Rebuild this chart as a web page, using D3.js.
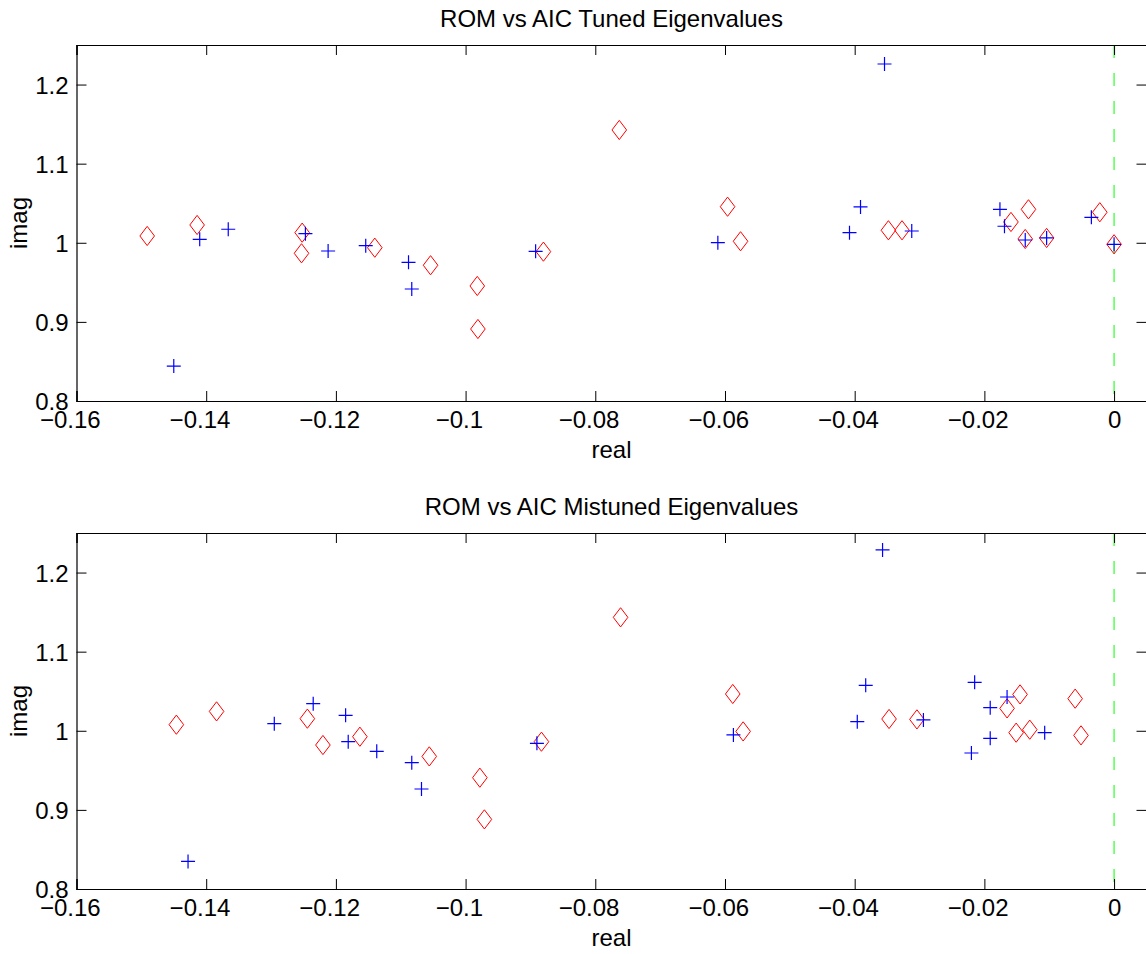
<!DOCTYPE html>
<html>
<head>
<meta charset="utf-8">
<script src="https://cdn.jsdelivr.net/npm/d3@7"></script>
<style>
  html, body { margin: 0; padding: 0; background: #fff; }
  svg { display: block; font-family: "Liberation Sans", Arial, Helvetica, sans-serif; }
</style>
</head>
<body>
<svg id="chart" width="1146" height="954"></svg>
<script>
// ---------- data ----------
const titles = ["ROM vs AIC Tuned Eigenvalues", "ROM vs AIC Mistuned Eigenvalues"];
const xLabel = "real";
const yLabel = "imag";
const xTicks = [-0.16, -0.14, -0.12, -0.1, -0.08, -0.06, -0.04, -0.02, 0];
const xTickLabels = ["\u22120.16", "\u22120.14", "\u22120.12", "\u22120.1", "\u22120.08", "\u22120.06", "\u22120.04", "\u22120.02", "0"];
const yTicks = [0.8, 0.9, 1.0, 1.1, 1.2];
const yTickLabels = ["0.8", "0.9", "1", "1.1", "1.2"];
const xDomain = [-0.16, 0.005];
const yDomain = [0.8, 1.25];

// Tuned: ROM (blue +)
const tunedRomReal = [-0.1450, -0.1410, -0.1366, -0.1247, -0.1212, -0.1154, -0.1088, -0.1083, -0.0892, -0.0611,
                      -0.0408, -0.0391, -0.0354, -0.0312, -0.0176, -0.0169, -0.0137, -0.0104, -0.0035, 0.0000];
const tunedRomImag = [0.8442, 1.0044, 1.0171, 1.0115, 0.9896, 0.9963, 0.9753, 0.9416, 0.9892, 1.0001,
                      1.0128, 1.0453, 1.2260, 1.0149, 1.0423, 1.0209, 1.0035, 1.0061, 1.0322, 0.9980];
// Tuned: AIC (red diamonds)
const tunedAicReal = [-0.1491, -0.1414, -0.1252, -0.1253, -0.1140, -0.1054, -0.0982, -0.0981, -0.0880, -0.0763,
                      -0.0596, -0.0576, -0.0348, -0.0327, -0.0159, -0.0137, -0.0132, -0.0104, -0.0022, 0.0000];
const tunedAicImag = [1.0086, 1.0225, 1.0128, 0.9867, 0.9938, 0.9716, 0.9454, 0.8910, 0.9888, 1.1426,
                      1.0456, 1.0019, 1.0158, 1.0158, 1.0263, 1.0048, 1.0423, 1.0061, 1.0386, 0.9981];
// Mistuned: ROM (blue +)
const mistunedRomReal = [-0.1428, -0.1295, -0.1235, -0.1185, -0.1181, -0.1137, -0.1083, -0.1068, -0.0890, -0.0587,
                         -0.0396, -0.0383, -0.0357, -0.0294, -0.0220, -0.0215, -0.0191, -0.0191, -0.0165, -0.0107];
const mistunedRomImag = [0.8349, 1.0090, 1.0343, 1.0195, 0.9862, 0.9740, 0.9597, 0.9264, 0.9841, 0.9947,
                         1.0115, 1.0574, 1.2286, 1.0137, 0.9719, 1.0612, 1.0292, 0.9904, 1.0427, 0.9976];
// Mistuned: AIC (red diamonds)
const mistunedAicReal = [-0.1446, -0.1384, -0.1244, -0.1220, -0.1163, -0.1056, -0.0978, -0.0971, -0.0883, -0.0761,
                         -0.0588, -0.0572, -0.0347, -0.0304, -0.0165, -0.0151, -0.0145, -0.0130, -0.0060, -0.0051];
const mistunedAicImag = [1.0077, 1.0245, 1.0153, 0.9820, 0.9925, 0.9676, 0.9407, 0.8880, 0.9862, 1.1434,
                         1.0465, 0.9992, 1.0149, 1.0144, 1.0283, 0.9976, 1.0460, 1.0014, 1.0406, 0.9942];

const refLineX = [0];

// ---------- layout ----------
const svg = d3.select("#chart");
const left = 76.5, right = 1146.5;
const panels = [
  { top: 45, bottom: 401, title: titles[0], rom: [tunedRomReal, tunedRomImag], aic: [tunedAicReal, tunedAicImag] },
  { top: 533, bottom: 889, title: titles[1], rom: [mistunedRomReal, mistunedRomImag], aic: [mistunedAicReal, mistunedAicImag] }
];
const fontSize = 24;
const tickLen = 10;
const fontFamily = '"Liberation Sans", Arial, sans-serif';

const x = d3.scaleLinear().domain(xDomain).range([left, right]);

const plusPath = "M-7,0H7M0,-7V7";
const diamondPath = "M0,-9.6L7.3,0L0,9.6L-7.3,0Z";

panels.forEach(p => {
  const y = d3.scaleLinear().domain(yDomain).range([p.bottom, p.top]);
  const g = svg.append("g");

  // green dashed reference line at x = 0
  g.selectAll("line.ref").data(refLineX).enter().append("line")
    .attr("x1", d => x(d)).attr("x2", d => x(d))
    .attr("y1", p.top).attr("y2", p.bottom)
    .attr("stroke", "#00ff00").attr("stroke-width", 1)
    .attr("stroke-dasharray", "13,15");

  // axes (ticks inward, on all four sides)
  const xb = g.append("g").attr("transform", `translate(0,${p.bottom})`)
    .call(d3.axisBottom(x).tickValues(xTicks).tickSize(-tickLen).tickPadding(9.5)
      .tickFormat((d, i) => xTickLabels[i]));
  const xt = g.append("g").attr("transform", `translate(0,${p.top})`)
    .call(d3.axisTop(x).tickValues(xTicks).tickSize(-tickLen).tickFormat(""));
  const yl = g.append("g").attr("transform", `translate(${left},0)`)
    .call(d3.axisLeft(y).tickValues(yTicks).tickSize(-tickLen).tickPadding(8)
      .tickFormat((d, i) => yTickLabels[i]));
  const yr = g.append("g").attr("transform", `translate(${right},0)`)
    .call(d3.axisRight(y).tickValues(yTicks).tickSize(-tickLen).tickFormat(""));

  [xb, xt, yl, yr].forEach(a => {
    a.select(".domain").attr("stroke", "#000").attr("stroke-width", 1.2);
    a.selectAll(".tick line").attr("stroke", "#000").attr("stroke-width", 1);
    a.selectAll(".tick text").attr("fill", "#000").style("font-size", fontSize + "px")
      .style("font-family", fontFamily);
  });
  yl.selectAll(".tick text").attr("dy", "0.36em");
  xb.selectAll(".tick text").attr("dx", (d, i) => xTickLabels[i].startsWith("\u2212") ? "-0.28em" : "0");

  // title
  g.append("text").attr("x", (left + right) / 2).attr("y", p.top - 18.5)
    .attr("text-anchor", "middle").style("font-size", fontSize + "px").text(p.title);
  // x label
  g.append("text").attr("x", (left + right) / 2).attr("y", p.bottom + 57)
    .attr("text-anchor", "middle").style("font-size", fontSize + "px").text(xLabel);
  // y label
  g.append("text").attr("transform", `translate(27,${(p.top + p.bottom) / 2}) rotate(-90)`)
    .attr("text-anchor", "middle").style("font-size", fontSize + "px").text(yLabel);

  // AIC: red diamonds
  g.selectAll("path.aic").data(d3.range(p.aic[0].length)).enter().append("path")
    .attr("class", "aic")
    .attr("transform", i => `translate(${x(p.aic[0][i])},${y(p.aic[1][i])})`)
    .attr("d", diamondPath).attr("fill", "none").attr("stroke", "#ff0000").attr("stroke-width", 1);

  // ROM: blue plus
  g.selectAll("path.rom").data(d3.range(p.rom[0].length)).enter().append("path")
    .attr("class", "rom")
    .attr("transform", i => `translate(${x(p.rom[0][i])},${y(p.rom[1][i])})`)
    .attr("d", plusPath).attr("fill", "none").attr("stroke", "#0000ff").attr("stroke-width", 1.2);
});
</script>
</body>
</html>
